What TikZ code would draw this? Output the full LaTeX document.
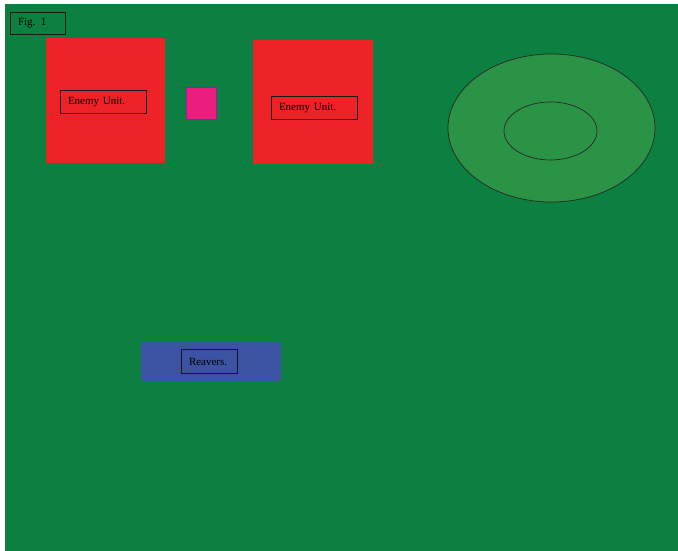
\documentclass[tikz,border=0pt]{standalone}
\usepackage{fontspec}
\setmainfont{Liberation Serif}
\usetikzlibrary{shapes.geometric}
\definecolor{fieldgreen}{RGB}{11, 128, 64}
\definecolor{pondgreen}{RGB}{42, 147, 70}
\definecolor{enemyred}{RGB}{237, 34, 39}
\definecolor{markerpink}{RGB}{234, 30, 124}
\definecolor{reaverblue}{RGB}{60, 82, 163}
\tikzset{
  % solid blocks on the field, placed by their top-left corner
  block/.style={
    rectangle, anchor=north west, inner sep=0pt, draw=none
  },
  enemy/.style={block, fill=enemyred},
  marker/.style={block, fill=markerpink, draw=markerpink!70!blue, line width=0.5pt},
  reavers/.style={block, fill=reaverblue},
  %
  % framed text labels (text sits at the left, box runs on)
  tag/.style={
    rectangle, anchor=north west, draw=black!90, line width=1pt,
    inner xsep=7.5pt, inner ysep=0pt, align=left,
    font=\fontsize{11}{13}\selectfont
  },
  %
  % the pond: two outlined ellipses
  pond/.style={
    ellipse, inner sep=0pt, draw=black!85, line width=0.7pt, fill=pondgreen
  },
}
\begin{document}
\begin{tikzpicture}[x=1pt, y=-1pt]

  %% ── Field ────────────────────────────────────────────────────────────────
  \useasboundingbox (0,0) rectangle (678,551);
  \fill[white] (0,0) rectangle (678,551);
  \fill[fieldgreen] (5,4) rectangle (678,551);

  %% ── Blocks ───────────────────────────────────────────────────────────────
  \node[enemy, minimum width=119pt, minimum height=125pt]   (enemyA)  at (46, 38)  {};
  \node[enemy, minimum width=120pt, minimum height=124pt]   (enemyB)  at (253, 40) {};
  \node[marker, minimum width=30pt, minimum height=31pt]    (mark)    at (185.5, 87.5) {};
  \node[reavers, minimum width=140pt, minimum height=39pt]  (reaver)  at (141, 342) {};

  %% ── Labels ───────────────────────────────────────────────────────────────
  \node[tag, text width=40pt, minimum height=22pt]  (fig)      at (10, 12)  {Fig. 1};
  \node[tag, text width=71pt, minimum height=23pt]  (enemyAt)  at (60, 90)  {Enemy Unit.};
  \node[tag, text width=71pt, minimum height=23pt]  (enemyBt)  at (271, 96) {Enemy Unit.};
  \node[tag, text width=41pt, minimum height=24pt]  (reavert)  at (181, 349) {Reavers.};

  %% ── Pond ─────────────────────────────────────────────────────────────────
  \node[pond, minimum width=207pt, minimum height=148pt] (pond)     at (551.5, 128) {};
  \node[pond, minimum width=93pt, minimum height=58pt]   (pondcore) at (550.5, 131) {};

\end{tikzpicture}
\end{document}
